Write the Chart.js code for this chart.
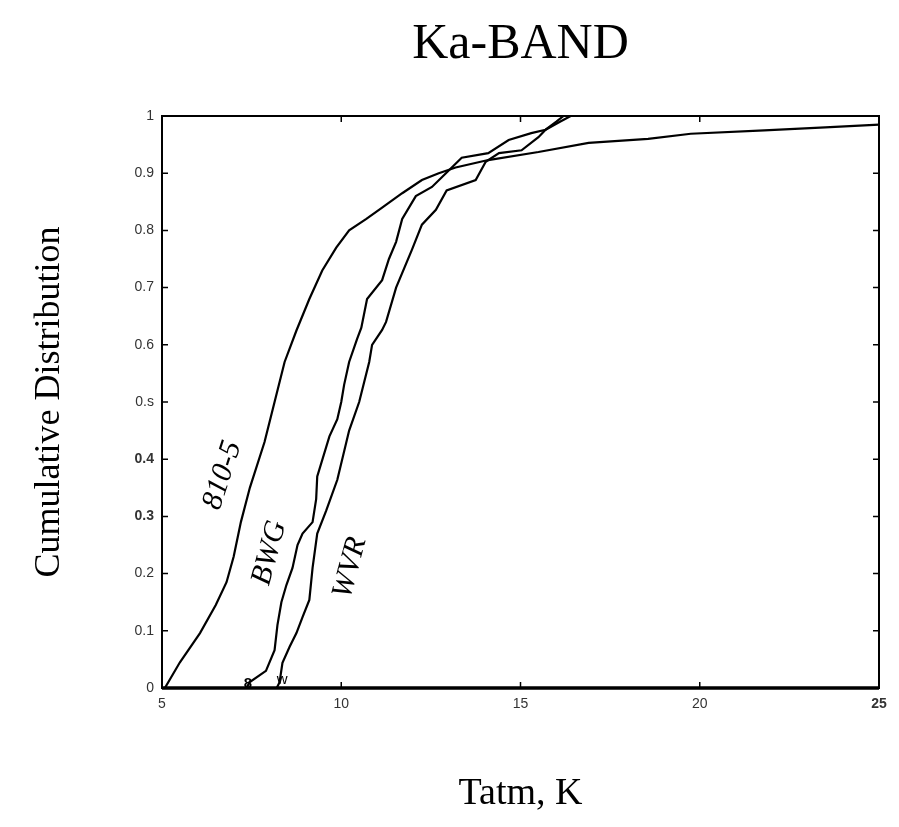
<!DOCTYPE html>
<html>
<head>
<meta charset="utf-8">
<title>Ka-BAND</title>
<script src="https://cdn.jsdelivr.net/npm/chart.js@4.4.0/dist/chart.umd.min.js"></script>
<style>
  html, body { margin: 0; padding: 0; background: #fff; }
</style>
</head>
<body>
<canvas id="myChart" width="899" height="827"></canvas>
<script>
"use strict";

// Kurvornas data (Tatm i K, kumulativ fördelning)
const t810 = [5.08, 5.5, 6.06, 6.5, 6.8, 7.0, 7.2, 7.45, 7.86, 8.14, 8.42, 8.75, 9.11, 9.47, 9.86, 10.22, 10.7, 11.14, 11.7, 12.25, 12.72, 13.19, 14.1, 15.5, 16.9, 18.56, 19.75, 21.8, 23.5, 25];
const c810 = [0, 0.045, 0.096, 0.145, 0.185, 0.23, 0.29, 0.35, 0.43, 0.5, 0.57, 0.625, 0.68, 0.73, 0.77, 0.8, 0.82, 0.84, 0.865, 0.888, 0.9, 0.91, 0.923, 0.937, 0.953, 0.96, 0.969, 0.975, 0.98, 0.985];

const tBwg = [7.36, 7.44, 7.9, 8.14, 8.22, 8.33, 8.47, 8.64, 8.78, 8.92, 9.2, 9.3, 9.33, 9.67, 9.89, 10.0, 10.08, 10.22, 10.44, 10.56, 10.72, 11.14, 11.33, 11.53, 11.7, 12.08, 12.53, 12.92, 13.36, 14.1, 14.67, 15.3, 15.7, 16.0, 16.2, 25];
const cBwg = [0, 0.01, 0.03, 0.066, 0.11, 0.15, 0.18, 0.21, 0.25, 0.27, 0.29, 0.33, 0.37, 0.44, 0.47, 0.5, 0.53, 0.57, 0.61, 0.63, 0.68, 0.713, 0.75, 0.78, 0.82, 0.86, 0.876, 0.9, 0.927, 0.935, 0.958, 0.97, 0.976, 0.99, 1, 1];

const tWvr = [8.2, 8.28, 8.36, 8.56, 8.75, 8.92, 9.11, 9.2, 9.33, 9.58, 9.89, 10.22, 10.5, 10.78, 10.86, 11.14, 11.25, 11.53, 11.97, 12.25, 12.64, 12.94, 13.75, 14.03, 14.4, 15.03, 15.5, 15.7, 16.1, 16.4, 25];
const cWvr = [0, 0.01, 0.044, 0.072, 0.096, 0.124, 0.154, 0.21, 0.27, 0.31, 0.364, 0.45, 0.5, 0.57, 0.6, 0.626, 0.64, 0.7, 0.766, 0.81, 0.836, 0.87, 0.888, 0.92, 0.935, 0.94, 0.963, 0.976, 0.99, 1, 1];

// Skaletiketter som de står i bilden
const yLabels = ['0', '0.1', '0.2', '0.3', '0.4', '0.s', '0.6', '0.7', '0.8', '0.9', '1'];
const xLabels = ['5', '10', '15', '20', '25'];

// Kurvnamn som skrivs längs kurvorna, och små märken vid kurvornas start
const curveNames = ['810-5', 'BWG', 'WVR'];
const startMarks = ['8', 'w'];

//Gör om två arrayer till punkter {x, y}
function toPoints(xs, ys) {
  return xs.map((v, i) => ({ x: v, y: ys[i] }));
}

//Ram runt diagrammet och små streck inåt (MATLAB-stil)
const frameTicks = {
  id: 'frameTicks',
  afterDraw(chart) {
    const { ctx, chartArea: a, scales: { x, y } } = chart;
    ctx.save();
    ctx.strokeStyle = '#000';
    ctx.lineWidth = 1.5;
    ctx.beginPath();
    x.ticks.forEach(t => {
      const px = x.getPixelForValue(t.value);
      ctx.moveTo(px, a.bottom); ctx.lineTo(px, a.bottom - 6);
      ctx.moveTo(px, a.top); ctx.lineTo(px, a.top + 6);
    });
    y.ticks.forEach(t => {
      const py = y.getPixelForValue(t.value);
      ctx.moveTo(a.left, py); ctx.lineTo(a.left + 6, py);
      ctx.moveTo(a.right, py); ctx.lineTo(a.right - 6, py);
    });
    ctx.stroke();

    ctx.lineWidth = 2;
    ctx.strokeRect(a.left, a.top, a.width, a.height);
    ctx.lineWidth = 3.5;
    ctx.beginPath();
    ctx.moveTo(a.left, a.bottom);
    ctx.lineTo(a.right, a.bottom);
    ctx.stroke();
    ctx.restore();
  }
};

//Rubrik centrerad över ritytan + namn längs kurvorna
const textLayer = {
  id: 'textLayer',
  afterDraw(chart, args, opts) {
    const { ctx, chartArea: a, scales: { x, y } } = chart;
    ctx.save();
    ctx.fillStyle = '#000';
    ctx.textAlign = 'center';
    ctx.textBaseline = 'middle';
    ctx.font = opts.titleFont;
    ctx.fillText(opts.title, (a.left + a.right) / 2, opts.titleY);

    opts.labels.forEach(l => {
      ctx.save();
      ctx.font = l.font || opts.labelFont;
      ctx.translate(x.getPixelForValue(l.x), y.getPixelForValue(l.y));
      ctx.rotate(l.angle * Math.PI / 180);
      ctx.fillText(l.text, 0, 0);
      ctx.restore();
    });
    ctx.restore();
  }
};

function lineSet(label, xs, ys) {
  return {
    label: label,
    data: toPoints(xs, ys),
    borderColor: '#000',
    borderWidth: 2.2,
    pointRadius: 0,
    tension: 0,
    fill: false
  };
}

function drawChart() {
  const ctx = document.getElementById('myChart');

  new Chart(ctx, {
    type: 'line',
    data: {
      datasets: [
        lineSet(curveNames[0], t810, c810),
        lineSet(curveNames[1], tBwg, cBwg),
        lineSet(curveNames[2], tWvr, cWvr)
      ]
    },
    options: {
      responsive: false,
      animation: false,
      layout: { padding: { top: 116, right: 20, left: 0, bottom: 0 } },
      plugins: {
        legend: { display: false },
        tooltip: { enabled: false },
        textLayer: {
          title: 'Ka-BAND',
          titleFont: '50px "Liberation Serif"',
          titleY: 45,
          labelFont: 'italic 30px "Liberation Serif"',
          labels: [
            { text: curveNames[0], x: 6.69, y: 0.372, angle: -72 },
            { text: curveNames[1], x: 8.0, y: 0.236, angle: -75 },
            { text: curveNames[2], x: 10.25, y: 0.21, angle: -75 },
            { text: startMarks[0], x: 7.4, y: 0.008, angle: 0, font: 'bold 15px "Liberation Sans"' },
            { text: startMarks[1], x: 8.35, y: 0.014, angle: 0, font: '15px "Liberation Sans"' }
          ]
        }
      },
      scales: {
        x: {
          type: 'linear',
          min: 5,
          max: 25,
          grid: { display: false, drawTicks: false },
          border: { display: false },
          ticks: {
            stepSize: 5,
            padding: 8,
            color: '#333',
            font: c => ({ family: 'Liberation Sans', size: 14, weight: c.tick && c.tick.value === 25 ? 'bold' : 'normal' }),
            callback: (v, i) => xLabels[i]
          },
          title: {
            display: true,
            text: 'Tatm, K',
            color: '#000',
            font: { family: 'Liberation Serif', size: 38 },
            padding: { top: 0, bottom: 10 }
          },
          afterFit: s => { s.height = 139; }
        },
        y: {
          type: 'linear',
          min: 0,
          max: 1,
          grid: { display: false, drawTicks: false },
          border: { display: false },
          ticks: {
            stepSize: 0.1,
            padding: 8,
            color: '#333',
            font: c => ({ family: 'Liberation Sans', size: 14, weight: c.tick && (c.index === 3 || c.index === 4) ? 'bold' : 'normal' }),
            callback: (v, i) => yLabels[i]
          },
          title: {
            display: true,
            text: 'Cumulative Distribution',
            color: '#000',
            font: { family: 'Liberation Serif', size: 36 },
            padding: { top: 28, bottom: 0 }
          },
          afterFit: s => { s.width = 162; }
        }
      }
    },
    plugins: [frameTicks, textLayer]
  });
}

window.onload = drawChart;
</script>
</body>
</html>
